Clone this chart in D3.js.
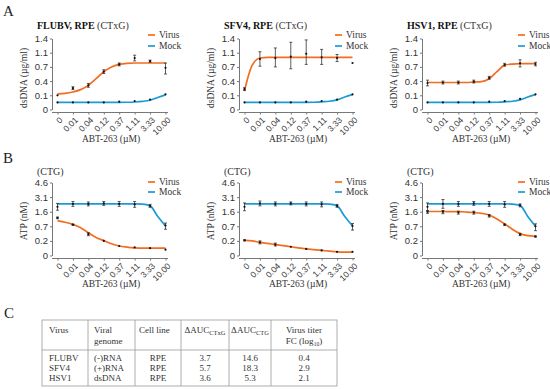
<!DOCTYPE html>
<html><head><meta charset="utf-8">
<script src="https://cdn.jsdelivr.net/npm/d3@7"></script>
<style>
body{margin:0;background:#fff}
svg{display:block;font-family:"Liberation Serif","Times New Roman",serif}
</style>
</head><body>
<svg id="c" width="550" height="389"></svg>
<script>
// ---------- data ----------
const doses = ["0","0.01","0.04","0.12","0.37","1.11","3.33","10.00"];
const dsTicks = [0, 0.1, 0.4, 0.7, 1.1, 1.4];
const atpTicks = [0, 0.2, 0.7, 1.6, 3.1, 4.6];
const fitIdx = [0,0.5,1,1.5,2,2.5,3,3.5,4,4.5,5,5.5,6,6.5,7];
const seriesNames = ["Virus","Mock"];

// A: CTxG dsDNA (µg/ml)
const flubvCtxgVirusFit = [0.13,0.14,0.17,0.22,0.31,0.45,0.6,0.7,0.77,0.8,0.81,0.81,0.81,0.81,0.81];
const flubvCtxgVirusPts = [0.1,0.25,0.31,0.6,0.77,0.95,0.86,0.68];
const flubvCtxgVirusErr = [0.01,0.03,0.04,0.04,0.04,0.08,0.03,0.13];
const flubvCtxgMockFit  = [0.05,0.05,0.05,0.05,0.05,0.05,0.05,0.05,0.05,0.051,0.053,0.057,0.065,0.085,0.11];
const flubvCtxgMockPts  = [0.05,0.05,0.05,0.05,0.055,0.06,0.07,0.12];
const flubvCtxgMockErr  = [0.004,0.004,0.004,0.004,0.004,0.004,0.004,0.01];

const sfv4CtxgVirusFit = [0.2,0.75,0.95,0.97,0.97,0.97,0.97,0.97,0.97,0.97,0.97,0.97,0.97,0.97,0.97];
const sfv4CtxgVirusPts = [0.23,0.92,0.95,0.99,1.07,0.97,0.95,0.81];
const sfv4CtxgVirusErr = [0.03,0.2,0.25,0.33,0.3,0.2,0.1,0];
const sfv4CtxgMockFit  = [0.05,0.05,0.05,0.05,0.05,0.05,0.05,0.05,0.05,0.051,0.054,0.058,0.068,0.088,0.115];
const sfv4CtxgMockPts  = [0.05,0.05,0.05,0.05,0.055,0.06,0.07,0.12];
const sfv4CtxgMockErr  = [0.004,0.004,0.004,0.004,0.004,0.004,0.004,0.01];

const hsv1CtxgVirusFit = [0.37,0.37,0.37,0.37,0.37,0.37,0.38,0.39,0.45,0.6,0.75,0.78,0.79,0.79,0.79];
const hsv1CtxgVirusPts = [0.36,0.37,0.37,0.39,0.47,0.76,0.8,0.78];
const hsv1CtxgVirusErr = [0.06,0.03,0.03,0.03,0.03,0.04,0.1,0.05];
const hsv1CtxgMockFit  = [0.05,0.05,0.05,0.05,0.05,0.05,0.05,0.05,0.05,0.051,0.054,0.058,0.068,0.088,0.115];
const hsv1CtxgMockPts  = [0.05,0.05,0.05,0.05,0.055,0.06,0.075,0.12];
const hsv1CtxgMockErr  = [0.004,0.004,0.004,0.004,0.004,0.004,0.004,0.01];

// B: CTG ATP (nM)
const flubvCtgVirusFit = [1.05,0.95,0.82,0.65,0.48,0.32,0.21,0.16,0.13,0.115,0.105,0.1,0.1,0.1,0.1];
const flubvCtgVirusPts = [1.22,0.8,0.43,0.2,0.13,0.11,0.1,0.08];
const flubvCtgVirusErr = [0.05,0.03,0.05,0.01,0.01,0.01,0.01,0.01];
const flubvCtgMockFit  = [2.4,2.4,2.4,2.4,2.4,2.4,2.4,2.4,2.4,2.4,2.4,2.38,2.2,1.3,0.72];
const flubvCtgMockPts  = [2.1,2.4,2.4,2.45,2.4,2.35,2.2,0.75];
const flubvCtgMockErr  = [0.35,0.25,0.2,0.2,0.25,0.3,0.15,0.15];

const sfv4CtgVirusFit = [0.22,0.2,0.18,0.165,0.15,0.135,0.12,0.105,0.09,0.08,0.07,0.06,0.05,0.045,0.045];
const sfv4CtgVirusPts = [0.22,0.18,0.15,0.12,0.09,0.07,0.05,0.05];
const sfv4CtgVirusErr = [0.02,0.02,0.02,0.01,0.01,0.01,0.005,0.005];
const sfv4CtgMockFit  = [2.4,2.4,2.4,2.4,2.4,2.4,2.4,2.4,2.4,2.4,2.4,2.38,2.2,1.3,0.72];
const sfv4CtgMockPts  = [2.1,2.45,2.4,2.45,2.4,2.35,2.2,0.72];
const sfv4CtgMockErr  = [0.4,0.25,0.2,0.15,0.2,0.25,0.15,0.15];

const hsv1CtgVirusFit = [1.62,1.62,1.62,1.61,1.6,1.58,1.55,1.5,1.4,1.15,0.85,0.6,0.45,0.38,0.36];
const hsv1CtgVirusPts = [1.6,1.6,1.55,1.55,1.35,0.8,0.42,0.35];
const hsv1CtgVirusErr = [0.1,0.12,0.1,0.1,0.08,0.04,0.04,0.02];
const hsv1CtgMockFit  = [2.4,2.4,2.4,2.4,2.4,2.4,2.4,2.4,2.4,2.4,2.4,2.38,2.25,1.3,0.7];
const hsv1CtgMockPts  = [2.1,2.4,2.4,2.45,2.4,2.35,2.25,0.7];
const hsv1CtgMockErr  = [0.4,0.45,0.25,0.2,0.25,0.3,0.15,0.15];

// C: table
const tableHeaders = ["Virus","Viral genome","Cell line","ΔAUC CTxG","ΔAUC CTG","Virus titer FC (log10)"];
const tableViruses = ["FLUBV","SFV4","HSV1"];
const tableGenomes = ["(-)RNA","(+)RNA","dsDNA"];
const tableCellLines = ["RPE","RPE","RPE"];
const tableDaucCtxg = ["3.7","5.7","3.6"];
const tableDaucCtg = ["14.6","18.3","5.3"];
const tableTiterFc = ["0.4","2.9","2.1"];

// ---------- drawing ----------
const ORANGE = "#F36C1F", BLUE = "#1C9AD6";
const svg = d3.select("#c");
const FONT = 9.5;

const panels = [
  {row:"A", ax:52,  name:"FLUBV, RPE", suffix:" (CTxG)", vF:flubvCtxgVirusFit, vP:flubvCtxgVirusPts, vE:flubvCtxgVirusErr, mF:flubvCtxgMockFit, mP:flubvCtxgMockPts, mE:flubvCtxgMockErr},
  {row:"A", ax:239, name:"SFV4, RPE", suffix:" (CTxG)", vF:sfv4CtxgVirusFit, vP:sfv4CtxgVirusPts, vE:sfv4CtxgVirusErr, mF:sfv4CtxgMockFit, mP:sfv4CtxgMockPts, mE:sfv4CtxgMockErr},
  {row:"A", ax:422, name:"HSV1, RPE", suffix:" (CTxG)", vF:hsv1CtxgVirusFit, vP:hsv1CtxgVirusPts, vE:hsv1CtxgVirusErr, mF:hsv1CtxgMockFit, mP:hsv1CtxgMockPts, mE:hsv1CtxgMockErr},
  {row:"B", ax:52,  name:"", suffix:"(CTG)", vF:flubvCtgVirusFit, vP:flubvCtgVirusPts, vE:flubvCtgVirusErr, mF:flubvCtgMockFit, mP:flubvCtgMockPts, mE:flubvCtgMockErr},
  {row:"B", ax:239, name:"", suffix:"(CTG)", vF:sfv4CtgVirusFit, vP:sfv4CtgVirusPts, vE:sfv4CtgVirusErr, mF:sfv4CtgMockFit, mP:sfv4CtgMockPts, mE:sfv4CtgMockErr},
  {row:"B", ax:422, name:"", suffix:"(CTG)", vF:hsv1CtgVirusFit, vP:hsv1CtgVirusPts, vE:hsv1CtgVirusErr, mF:hsv1CtgMockFit, mP:hsv1CtgMockPts, mE:hsv1CtgMockErr}
];

function drawPanel(p){
  const isA = p.row === "A";
  const top = isA ? 38.5 : 182.5, bottom = isA ? 109.5 : 255.5;
  const ticks = isA ? dsTicks : atpTicks;
  const g = svg.append("g");
  const x = d3.scalePoint().domain(doses).range([p.ax+5.5, p.ax+113.5]);
  const xi = d3.scaleLinear().domain([0, doses.length-1]).range(x.range());
  const y = d3.scaleLinear().domain(ticks).range(ticks.map((d,i)=> bottom - i*(bottom-top)/(ticks.length-1)));

  // y axis
  const ya = g.append("g").attr("transform",`translate(${p.ax},0)`)
    .call(d3.axisLeft(y).tickValues(ticks).tickSize(2).tickSizeOuter(0).tickPadding(2).tickFormat(d=>String(d)));
  ya.select(".domain").attr("stroke","#777");
  ya.selectAll(".tick line").attr("stroke","#777");
  ya.selectAll("text").attr("font-size",FONT).attr("fill","#333").attr("font-family",null);

  // x axis
  const xaY = bottom + 3;
  const xa = g.append("g").attr("transform",`translate(0,${xaY})`)
    .call(d3.axisBottom(x).tickSize(2).tickSizeOuter(0));
  xa.select(".domain").remove();
  g.append("line").attr("x1",p.ax).attr("x2",p.ax+116).attr("y1",xaY).attr("y2",xaY).attr("stroke","#777");
  xa.selectAll(".tick line").attr("stroke","#777");
  xa.selectAll("text").attr("font-size",8.5).attr("fill","#333").attr("font-family",null)
    .attr("x",0).attr("y",0).attr("dy","0.35em")
    .attr("transform","translate(3,6) rotate(-45)").style("text-anchor","end");

  // titles
  const ty = isA ? 29 : 175;
  const tx = p.ax-15;
  const t = g.append("text").attr("x",tx).attr("y",ty).attr("font-size",FONT+0.5).attr("fill","#111");
  if(p.name) t.append("tspan").attr("font-weight","bold").text(p.name);
  t.append("tspan").attr("fill","#333").text(p.suffix);

  // y label
  const ylab = isA ? "dsDNA (µg/ml)" : "ATP (nM)";
  g.append("text").attr("transform",`translate(${p.ax-25},${isA?78:221}) rotate(-90)`)
    .attr("text-anchor","middle").attr("font-size",FONT).attr("fill","#333").text(ylab);

  // x label
  g.append("text").attr("x",p.ax+59).attr("y",isA?142:287).attr("text-anchor","middle")
    .attr("font-size",FONT).attr("fill","#333").text("ABT-263 (µM)");

  // fitted curves
  const line = d3.line().x((d,i)=>xi(fitIdx[i])).y(d=>y(d)).curve(d3.curveMonotoneX);
  [[p.vF,ORANGE],[p.mF,BLUE]].forEach(([f,c])=>{
    g.append("path").attr("d",line(f)).attr("fill","none").attr("stroke",c).attr("stroke-width",1.7);
  });

  // points with error bars
  [[p.vP,p.vE],[p.mP,p.mE]].forEach(([pts,err])=>{
    pts.forEach((v,i)=>{
      const cx = x(doses[i]);
      const lo = Math.max(0, v-err[i]), hi = v+err[i];
      if(err[i] > 0.012 || (!isA && err[i] > 0.03)){
        const eg = g.append("g").attr("stroke","#333").attr("stroke-width",0.8);
        eg.append("line").attr("x1",cx).attr("x2",cx).attr("y1",y(lo)).attr("y2",y(hi));
        eg.append("line").attr("x1",cx-1.5).attr("x2",cx+1.5).attr("y1",y(lo)).attr("y2",y(lo));
        eg.append("line").attr("x1",cx-1.5).attr("x2",cx+1.5).attr("y1",y(hi)).attr("y2",y(hi));
      }
      g.append("circle").attr("cx",cx).attr("cy",y(v)).attr("r",1.1).attr("fill","#111");
    });
  });

  // legend
  const ly = isA ? [35,46] : [182,192];
  seriesNames.forEach((s,i)=>{
    g.append("line").attr("x1",p.ax+96).attr("x2",p.ax+103).attr("y1",ly[i]).attr("y2",ly[i])
      .attr("stroke", i===0?ORANGE:BLUE).attr("stroke-width",1.7);
    g.append("text").attr("x",p.ax+107).attr("y",ly[i]+3.3).attr("font-size",FONT).attr("fill","#333").text(s);
  });
}
panels.forEach(drawPanel);

// panel letters
[["A",3,16],["B",3,163],["C",4,318]].forEach(([l,x,y])=>{
  svg.append("text").attr("x",x).attr("y",y).attr("font-size",15).attr("fill","#222").text(l);
});

// table
const colX = [42,88,135,181,229,271,337];
const tTop = 320, tHead = 350, tBot = 386;
const tg = svg.append("g").attr("font-size",9).attr("fill","#333");
tg.append("rect").attr("x",colX[0]).attr("y",tTop).attr("width",colX[6]-colX[0]).attr("height",tBot-tTop)
  .attr("fill","none").attr("stroke","#999").attr("stroke-width",0.8);
tg.append("line").attr("x1",colX[0]).attr("x2",colX[6]).attr("y1",tHead).attr("y2",tHead).attr("stroke","#999").attr("stroke-width",0.8);
colX.slice(1,6).forEach(cx=>tg.append("line").attr("x1",cx).attr("x2",cx).attr("y1",tTop).attr("y2",tBot).attr("stroke","#999").attr("stroke-width",0.8));

const h1 = 333, h2 = 344;
tg.append("text").attr("x",colX[0]+7).attr("y",h1).text(tableHeaders[0]);
tg.append("text").attr("x",colX[1]+6).attr("y",h1).text("Viral");
tg.append("text").attr("x",colX[1]+6).attr("y",h2).text("genome");
tg.append("text").attr("x",colX[2]+4).attr("y",h1).text(tableHeaders[2]);
[[3,"CTxG"],[4,"CTG"]].forEach(([c,sub])=>{
  const t = tg.append("text").attr("x",(colX[c]+colX[c+1])/2).attr("y",h1).attr("text-anchor","middle");
  t.append("tspan").text("ΔAUC");
  t.append("tspan").attr("font-size",6.5).attr("dy",2).text(sub);
});
const mid5 = (colX[5]+colX[6])/2;
tg.append("text").attr("x",mid5).attr("y",h1).attr("text-anchor","middle").text("Virus titer");
const fc = tg.append("text").attr("x",mid5).attr("y",h2).attr("text-anchor","middle");
fc.append("tspan").text("FC (log");
fc.append("tspan").attr("font-size",5.5).attr("dy",1.5).text("10");
fc.append("tspan").attr("dy",-1.5).text(")");

const rowY = [361,371,381];
tableViruses.forEach((v,i)=>{
  tg.append("text").attr("x",colX[0]+7).attr("y",rowY[i]).text(v);
  tg.append("text").attr("x",colX[1]+6).attr("y",rowY[i]).text(tableGenomes[i]);
  [[tableCellLines,2],[tableDaucCtxg,3],[tableDaucCtg,4],[tableTiterFc,5]].forEach(([arr,c])=>{
    tg.append("text").attr("x",(colX[c]+colX[c+1])/2).attr("y",rowY[i]).attr("text-anchor","middle").text(arr[i]);
  });
});
</script>
</body></html>
